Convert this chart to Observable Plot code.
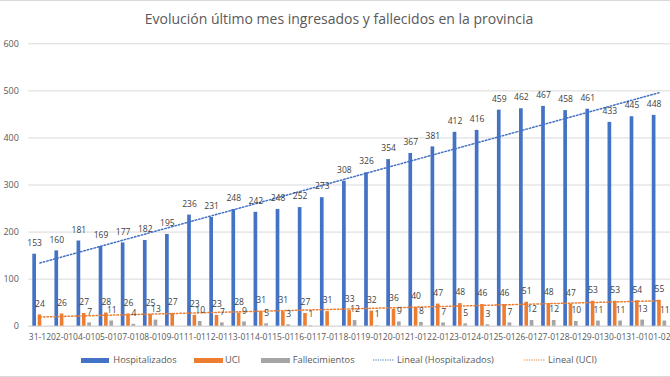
<!DOCTYPE html>
<html>
<head>
<meta charset="utf-8">
<script src="https://cdn.jsdelivr.net/npm/d3@7"></script>
<script src="https://cdn.jsdelivr.net/npm/@observablehq/plot@0.6"></script>
<style>
  body { margin: 0; background: #fff; }
  #chart { position: relative; width: 670px; height: 377px; overflow: hidden; font-family: "Open Sans", sans-serif; background: #fff; }
  .hline { position: absolute; left: 0; width: 670px; height: 1px; background: #d9d9d9; }
  #title { position: absolute; left: 0; width: 678px; top: 11.5px; text-align: center; font-size: 14px; line-height: 14px; color: #595959; white-space: nowrap; }
  #plot { position: absolute; left: 0; top: 0; }
  .lg { position: absolute; top: 354px; height: 12px; display: flex; align-items: center; font-size: 9.3px; line-height: 12px; color: #595959; white-space: nowrap; }
  .sw { height: 5px; }
</style>
</head>
<body>
<div id="chart">
  <div class="hline" style="top:0"></div>
  <div class="hline" style="top:376px"></div>
  <div id="plot"></div>
  <div id="title">Evolución último mes ingresados y fallecidos en la provincia</div>
</div>
<script>
const dates = ["31-12","02-01","04-01","05-01","07-01","08-01","09-01","11-01","12-01","13-01","14-01","15-01","16-01","17-01","18-01","19-01","20-01","21-01","22-01","23-01","24-01","25-01","26-01","27-01","28-01","29-01","30-01","31-01","01-02"];
const hospitalizados = [153,160,181,169,177,182,195,236,231,248,242,248,252,273,308,326,354,367,381,412,416,459,462,467,458,461,433,445,448];
const uci = [24,26,27,28,26,25,27,23,23,28,31,31,27,31,33,32,36,40,47,48,46,46,51,48,47,53,53,54,55];
const fallecimientos = [null,null,7,11,4,13,null,10,7,9,5,3,1,null,12,1,9,8,7,5,3,7,12,12,10,11,11,13,11];
const yTicks = [0,100,200,300,400,500,600];
const seriesNames = ["Hospitalizados","UCI","Fallecimientos","Lineal (Hospitalizados)","Lineal (UCI)"];
const colors = {blue: "#4472C4", orange: "#ED7D31", grey: "#A5A5A5"};

const rows = dates.map((d, i) => ({date: d, hosp: hospitalizados[i], uci: uci[i], fall: fallecimientos[i]}));
const fallRows = rows.filter(r => r.fall != null);

function linreg(vals) {
  const xs = vals.map((_, i) => i + 1);
  const mx = d3.mean(xs), my = d3.mean(vals);
  let sxy = 0, sxx = 0;
  xs.forEach((x, i) => { sxy += (x - mx) * (vals[i] - my); sxx += (x - mx) ** 2; });
  const b = sxy / sxx, a = my - b * mx;
  return dates.map((d, i) => ({date: d, v: a + b * (i + 1)}));
}
const trendH = linreg(hospitalizados);
const trendU = linreg(uci);

const lblStyle = {fill: "#404040", fontSize: 8.5, dy: -11};
const dotted = {strokeWidth: 1.5, strokeDasharray: "1.5,2"};

const chart = Plot.plot({
  width: 670, height: 345,
  marginTop: 43.3, marginBottom: 19.3, marginLeft: 28.4, marginRight: 0,
  style: {fontFamily: "'Open Sans', sans-serif", color: "#595959", background: "transparent", overflow: "visible"},
  x: {domain: dates, padding: 0, round: false, label: null},
  y: {domain: [0, 600], label: null},
  marks: [
    Plot.gridY(yTicks, {stroke: "#d9d9d9", strokeOpacity: 1}),
    Plot.ruleY([0], {stroke: "#d9d9d9", strokeOpacity: 1}),
    Plot.barY(rows, {x: "date", y: "hosp", fill: colors.blue, insetLeft: 3.9, insetRight: 14.54}),
    Plot.barY(rows, {x: "date", y: "uci", fill: colors.orange, insetLeft: 9.3, insetRight: 9.24}),
    Plot.barY(fallRows, {x: "date", y: "fall", fill: colors.grey, insetLeft: 14.6, insetRight: 3.84}),
    Plot.line(trendH, {x: "date", y: "v", stroke: colors.blue, ...dotted}),
    Plot.line(trendU, {x: "date", y: "v", stroke: colors.orange, ...dotted}),
    Plot.text(rows, {x: "date", y: "hosp", text: d => String(d.hosp), dx: -5.3, ...lblStyle}),
    Plot.text(rows, {x: "date", y: "uci", text: d => String(d.uci), dx: 0, ...lblStyle}),
    Plot.text(fallRows, {x: "date", y: "fall", text: d => String(d.fall), dx: 5.4, ...lblStyle}),
    Plot.axisY(yTicks, {tickSize: 0, tickPadding: 10, fontSize: 9, label: null}),
    Plot.axisX({tickSize: 0, tickPadding: 8, fontSize: 8.5, label: null})
  ]
});
document.getElementById("plot").appendChild(chart);

// Legend (layout positions in px)
const legendLayout = [
  {left: 80.7, sw: 28.6, gap: 4},
  {left: 194, sw: 28.7, gap: 2.3},
  {left: 261, sw: 29, gap: 2.7},
  {left: 373.3, sw: 20.7, gap: 3},
  {left: 524, sw: 21, gap: 3}
];
const legendDefs = [
  {name: seriesNames[0], color: colors.blue, type: "bar"},
  {name: seriesNames[1], color: colors.orange, type: "bar"},
  {name: seriesNames[2], color: colors.grey, type: "bar"},
  {name: seriesNames[3], color: colors.blue, type: "line"},
  {name: seriesNames[4], color: colors.orange, type: "line"}
];
const root = document.getElementById("chart");
legendDefs.forEach((def, i) => {
  const L = legendLayout[i];
  const item = document.createElement("div");
  item.className = "lg";
  item.style.left = L.left + "px";
  if (def.type === "bar") {
    const sw = document.createElement("div");
    sw.className = "sw";
    sw.style.width = L.sw + "px";
    sw.style.background = def.color;
    sw.style.marginRight = L.gap + "px";
    item.appendChild(sw);
  } else {
    const ns = "http://www.w3.org/2000/svg";
    const svg = document.createElementNS(ns, "svg");
    svg.setAttribute("width", L.sw); svg.setAttribute("height", 6);
    svg.style.marginRight = L.gap + "px";
    const ln = document.createElementNS(ns, "line");
    ln.setAttribute("x1", 0); ln.setAttribute("x2", L.sw); ln.setAttribute("y1", 3); ln.setAttribute("y2", 3);
    ln.setAttribute("stroke", def.color); ln.setAttribute("stroke-width", 1.2); ln.setAttribute("stroke-dasharray", "1.2,1.2");
    svg.appendChild(ln);
    item.appendChild(svg);
  }
  const t = document.createElement("span");
  t.textContent = def.name;
  item.appendChild(t);
  root.appendChild(item);
});
</script>
</body>
</html>
